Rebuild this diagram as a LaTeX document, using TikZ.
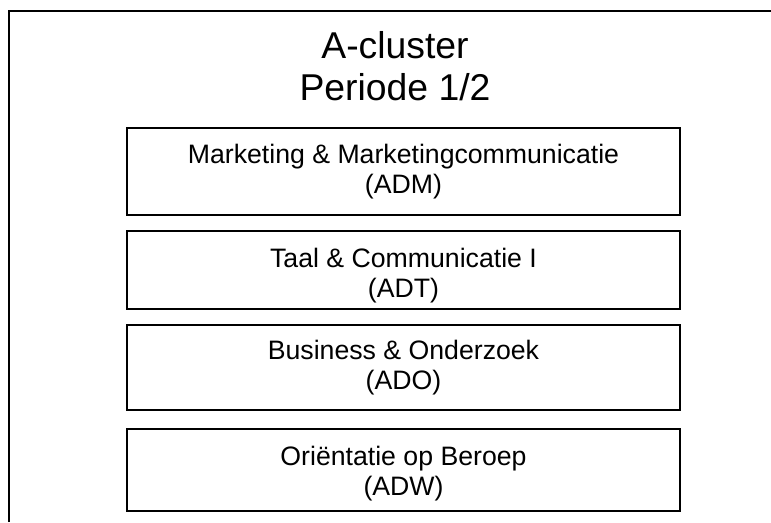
\documentclass[tikz,border=0pt]{standalone}
\usepackage{fontspec}
\setmainfont{Liberation Sans}
\newcommand*{\vak}[2]{\begin{tabular}[t]{@{}c@{}}#1\\(#2)\end{tabular}}

\begin{document}
\begin{tikzpicture}[ % options of this picture
    x=0.75pt, y=-0.75pt, % one unit = one pixel of the image, y downwards
    every node/.style={inner sep=0pt},
    titel/.style={align=center, font=\fontsize{28}{31.5}\selectfont}, % title text
    vakbox/.style={draw, line width=1.5pt, minimum width=414.75pt, anchor=north,
      font=\fontsize{20}{22.5}\selectfont} % one box per course
  ]
  \useasboundingbox (0,0) rectangle (771,522); % page size as the image
  %% frame
  \coordinate (lo) at (9,522);
  \coordinate (ro) at (771,11);
  \draw[line width=1.8pt] (lo) |- (ro); % only left and top side visible
  %% node
  \node[titel, anchor=north] (titel) at (395,31) {A-cluster\\Periode 1/2};
  \node[vakbox, text height=26.25pt, text depth=39pt] (adm) at (403.5,127) {\vak{Marketing \& Marketingcommunicatie}{ADM}};
  \node[vakbox, text height=27pt, text depth=31.5pt] (adt) at (403.5,230) {\vak{Taal \& Communicatie I}{ADT}};
  \node[vakbox, text height=25.5pt, text depth=38.25pt] (ado) at (403.5,324) {\vak{Business \& Onderzoek}{ADO}};
  \node[vakbox, text height=27pt, text depth=34.5pt] (adw) at (403.5,428) {\vak{Oriëntatie op Beroep}{ADW}};
\end{tikzpicture}
\end{document}
